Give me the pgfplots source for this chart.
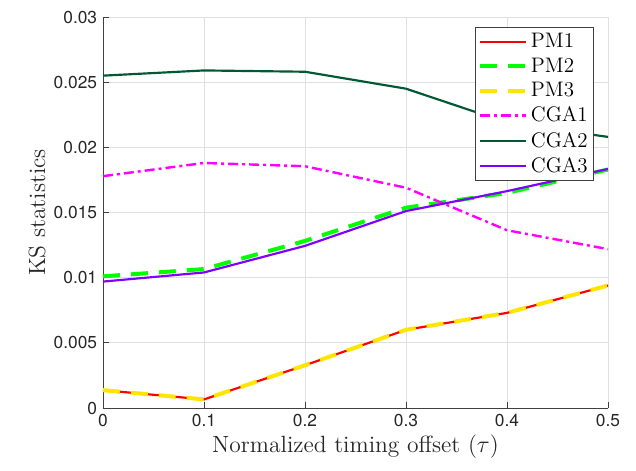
\documentclass[border=0pt]{standalone}
\usepackage{fontspec}
\usepackage{pgfplots}
\pgfplotsset{compat=1.18}
\newfontfamily\heros{TeX Gyre Heros}
\definecolor{cga2}{rgb}{0,0.35,0.2}
\definecolor{cga3}{rgb}{0.5,0,1}
\definecolor{pmyel}{rgb}{1,0.9,0}
\definecolor{pmred}{rgb}{1,0,0}
\definecolor{pmgreen}{rgb}{0,1,0}
\definecolor{cga1}{rgb}{1,0,1}
\begin{document}
\begin{tikzpicture}
\begin{axis}[name=ax,
  scale only axis, width=303pt, height=234.6pt,
  xmin=0, xmax=0.5, ymin=0, ymax=0.03,
  axis x line*=bottom, axis y line*=left,
  xtick={0,0.1,0.2,0.3,0.4,0.5},
  ytick={0,0.005,0.01,0.015,0.02,0.025,0.03},
  scaled y ticks=false, scaled x ticks=false,
  /pgf/number format/assume math mode=true,
  yticklabel style={/pgf/number format/fixed,/pgf/number format/precision=3},
  xticklabel style={/pgf/number format/fixed,/pgf/number format/precision=1},
  tick label style={font=\heros\fontsize{10.4}{12}\selectfont, text=black!85},
  tick align=inside, major tick length=3.6pt,
  axis line style={black!75, line width=0.5pt},
  tick style={black!75, line width=0.5pt},
  grid=major, major grid style={black!12, line width=0.5pt},
  xlabel={Normalized timing offset ($\tau$)},
  ylabel={KS statistics},
  label style={font=\fontsize{14.1}{16}\selectfont, text=black!85},
  xlabel style={yshift=2pt},
  ylabel style={yshift=-2pt},
  legend style={at={(0.972,0.974)}, anchor=north east, draw=black!75, line width=0.5pt,
    font=\fontsize{12.6}{15}\selectfont, row sep=0.6pt, inner sep=1.5pt,
    legend cell align=left},
  legend image code/.code={\draw[#1] (0pt,0pt) -- (27.6pt,0pt);},
]
\addplot[pmred, line width=1.3pt] coordinates {(0,0.00137) (0.1,0.00066) (0.2,0.00328) (0.3,0.0060) (0.4,0.0073) (0.5,0.0094)};
\addlegendentry{PM1}
\addplot[pmgreen, line width=2.4pt, dash pattern=on 10.2pt off 6.6pt] coordinates {(0,0.0101) (0.1,0.01066) (0.2,0.01282) (0.3,0.01537) (0.4,0.0165) (0.5,0.0183)};
\addlegendentry{PM2}
\addplot[pmyel, line width=2.4pt, dash pattern=on 10.2pt off 6.6pt] coordinates {(0,0.00137) (0.1,0.00066) (0.2,0.00328) (0.3,0.0060) (0.4,0.0073) (0.5,0.0094)};
\addlegendentry{PM3}
\addplot[cga1, line width=1.45pt, dash pattern=on 6pt off 2.4pt on 1.8pt off 2.4pt] coordinates {(0,0.01779) (0.1,0.0188) (0.2,0.01855) (0.3,0.0169) (0.4,0.01364) (0.5,0.01219)};
\addlegendentry{CGA1}
\addplot[cga2, line width=1.3pt] coordinates {(0,0.0255) (0.1,0.0259) (0.2,0.0258) (0.3,0.0245) (0.4,0.0219) (0.5,0.0208)};
\addlegendentry{CGA2}
\addplot[cga3, line width=1.3pt] coordinates {(0,0.0097) (0.1,0.0104) (0.2,0.01244) (0.3,0.01511) (0.4,0.01664) (0.5,0.01834)};
\addlegendentry{CGA3}
\end{axis}
\pgfresetboundingbox
\path ([shift={(-61.8pt,-37.2pt)}]ax.south west) rectangle ([shift={(16.8pt,10.2pt)}]ax.north east);
\end{tikzpicture}
\end{document}
